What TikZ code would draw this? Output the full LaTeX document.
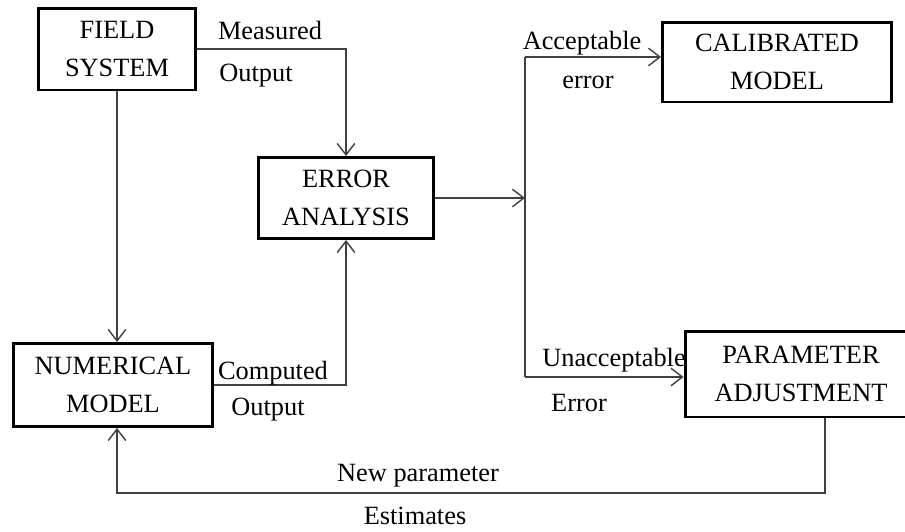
\documentclass[tikz,border=0pt]{standalone}
\usepackage{fontspec}
\setmainfont{Liberation Serif}
\usetikzlibrary{arrows.meta}

\begin{document}
\begin{tikzpicture}[x=0.02cm,y=-0.02cm,font=\fontsize{15}{21.5}\selectfont]
\tikzstyle{blok}=[rectangle,draw=black,line width=1.7pt,align=center,inner sep=0pt]
\tikzstyle{lbl}=[rectangle,inner sep=0pt]
\tikzstyle{conn}=[draw=black!75,line width=0.8pt]
\tikzstyle{arr}=[conn,-{Straight Barb[length=6.5pt,width=10pt]}]
\useasboundingbox (0,0) rectangle (905,531);
\clip (0,0) rectangle (905,531);
% boxes
\node [blok,minimum width=3.16cm,minimum height=1.64cm] (field) at (117,49) {FIELD\\SYSTEM};
\node [blok,minimum width=3.5cm,minimum height=1.62cm] (error) at (346,198) {ERROR\\ANALYSIS};
\node [blok,minimum width=4.58cm,minimum height=1.6cm] (calib) at (777,62) {CALIBRATED\\MODEL};
\node [blok,minimum width=4cm,minimum height=1.66cm] (numer) at (113,385) {NUMERICAL\\MODEL};
\node [blok,minimum width=4.64cm,minimum height=1.72cm] (param) at (801,374) {PARAMETER\\ADJUSTMENT};
% branch points
\coordinate (acc) at (525,57);
\coordinate (unacc) at (525,377);
\coordinate (fb) at (825,493);
% connectors
\draw [arr] (field.east) -| (error.north);
\draw [arr] (field.south) -- (field.south |- numer.north);
\draw [arr] (numer.east) -| (error.south);
\draw [arr] (error.east) -- (error.east -| acc);
\draw [conn] (acc) -- (unacc);
\draw [arr] (acc) -- (calib.west |- acc);
\draw [arr] (unacc) -- (param.west |- unacc);
\draw [arr] (param.south -| fb) -- (fb) -| (numer.south -| field.south);
% labels
\node [lbl] (meas) at (270,30) {Measured};
\node [lbl] (out1) at (256,76) {Output};
\node [lbl] (comp) at (273,373) {Computed};
\node [lbl] (out2) at (268,410) {Output};
\node [lbl] (acct) at (582,43) {Acceptable};
\node [lbl] (acce) at (588,82) {error};
\node [lbl] (unat) at (614,360) {Unacceptable};
\node [lbl] (unae) at (579,403) {Error};
\node [lbl] (newp) at (418,476) {New parameter};
\node [lbl] (esti) at (415,516) {Estimates};
\end{tikzpicture}
\end{document}
